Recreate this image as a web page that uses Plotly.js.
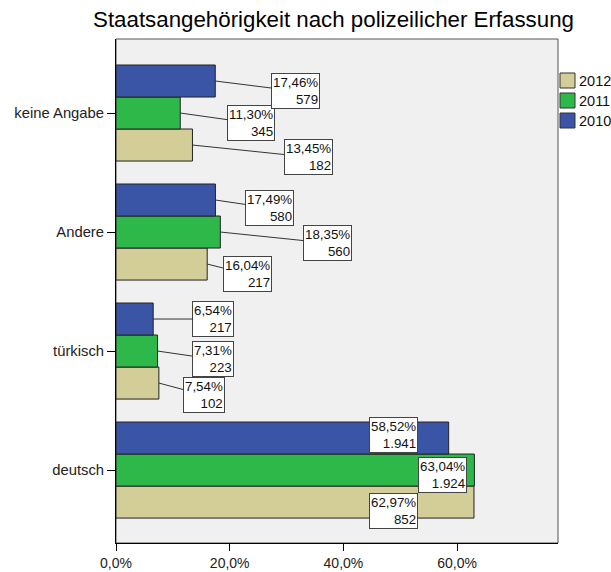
<!DOCTYPE html>
<html>
<head>
<meta charset="utf-8">
<script src="https://cdn.plot.ly/plotly-3.0.1.min.js"></script>
<style>html,body{margin:0;padding:0;background:#fff;}#chart{width:611px;height:572px;}</style>
</head>
<body>
<div id="chart"></div>
<script>
// ---- data ----
const categories = ["deutsch", "türkisch", "Andere", "keine Angabe"];
const years = ["2012", "2011", "2010"];
const pct2012 = [62.97, 7.54, 16.04, 13.45];
const pct2011 = [63.04, 7.31, 18.35, 11.30];
const pct2010 = [58.52, 6.54, 17.49, 17.46];
const count2012 = [852, 102, 217, 182];
const count2011 = [1924, 223, 560, 345];
const count2010 = [1941, 217, 580, 579];
const xTickVals = [0, 20, 40, 60];
const xTickText = ["0,0%", "20,0%", "40,0%", "60,0%"];

// ---- styling / layout ----
const colors = {"2012": "#d3ce98", "2011": "#2eb84a", "2010": "#3a55a6"};
const M = {l: 116, r: 53, t: 39, b: 29};
const W = 611, H = 572;
const PW = W - M.l - M.r, PH = H - M.t - M.b;
const px2x = px => (px - M.l) / PW;
const py2y = py => (H - M.b - py) / PH;
const FONT = 'Liberation Sans, Arial, sans-serif';

const series = {
  "2012": {pct: pct2012, cnt: count2012},
  "2011": {pct: pct2011, cnt: count2011},
  "2010": {pct: pct2010, cnt: count2010}
};

const fmtPct = v => v.toFixed(2).replace('.', ',') + '%';
const fmtCnt = n => String(n).replace(/\B(?=(\d{3})+(?!\d))/g, '.');

const traces = years.map(y => ({
  type: 'bar',
  orientation: 'h',
  name: y,
  y: categories,
  x: series[y].pct,
  marker: {color: colors[y], line: {color: '#222', width: 1}},
  hoverinfo: 'none',
  showlegend: false
}));

// label box offsets (pixels from bar end), index by category
const offsets = {
  "2010": [[-55, -3], [60, 0], [54, 8], [80, 10]],
  "2011": [[-32, 5], [55, 8], [107, 11], [71, 10]],
  "2012": [[-80, 9], [45, 12], [40, 10], [116, 12]]
};
const barShift = {"2010": 0.269, "2011": 0, "2012": -0.269};

const annotations = [];
years.forEach(y => {
  categories.forEach((c, i) => {
    const [ax, ay] = offsets[y][i];
    annotations.push({
      x: series[y].pct[i], y: i + barShift[y], xref: 'x', yref: 'y',
      text: fmtPct(series[y].pct[i]) + '<br>' + fmtCnt(series[y].cnt[i]),
      align: 'right',
      showarrow: true, arrowhead: 0, arrowwidth: 1,
      arrowcolor: i === 0 ? 'rgba(0,0,0,0)' : '#333',
      ax: ax, ay: ay, standoff: 0,
      bgcolor: '#ffffff', bordercolor: '#444', borderwidth: 1, borderpad: 1,
      font: {family: FONT, size: 13.3, color: '#111'}
    });
  });
});

// custom legend
const shapes = [{
  type: 'rect', xref: 'paper', yref: 'paper', x0: 0, x1: 1, y0: 0, y1: 1,
  line: {color: '#555', width: 1}, layer: 'below'
}];
years.forEach((y, k) => {
  const top = 73 + k * 20;
  shapes.push({
    type: 'rect', xref: 'paper', yref: 'paper',
    x0: px2x(560), x1: px2x(575), y0: py2y(top + 15), y1: py2y(top),
    fillcolor: colors[y], line: {color: '#333', width: 1}
  });
  annotations.push({
    xref: 'paper', yref: 'paper', x: px2x(577), y: py2y(top + 8),
    xanchor: 'left', yanchor: 'middle', showarrow: false, text: y,
    font: {family: FONT, size: 14.5, color: '#111'}
  });
});

const layout = {
  width: W, height: H,
  margin: M,
  paper_bgcolor: '#ffffff',
  plot_bgcolor: '#f0f0f0',
  separators: ',.',
  barmode: 'group',
  bargap: 0.193,
  bargroupgap: 0,
  showlegend: false,
  title: {
    text: 'Staatsangehörigkeit nach polizeilicher Erfassung',
    font: {family: FONT, size: 22.3, color: '#000'},
    x: 333.5 / W, xanchor: 'center', y: 1 - 19 / H, yanchor: 'middle'
  },
  xaxis: {
    range: [0, 77.75],
    tickmode: 'array',
    tickvals: xTickVals,
    ticktext: xTickText,
    ticks: 'outside', ticklen: 7, tickcolor: '#000', tickwidth: 1,
    showline: true, linecolor: '#000', linewidth: 1,
    showgrid: false, zeroline: false,
    tickfont: {family: FONT, size: 14, color: '#222'}
  },
  yaxis: {
    type: 'category',
    range: [-0.613, 3.622],
    ticks: 'outside', ticklen: 8, tickcolor: '#000', tickwidth: 1,
    showline: true, linecolor: '#000', linewidth: 1,
    showgrid: false, zeroline: false,
    tickfont: {family: FONT, size: 14.8, color: '#222'}
  },
  shapes: shapes,
  annotations: annotations
};

Plotly.newPlot('chart', traces, layout, {displayModeBar: false, staticPlot: true});
</script>
</body>
</html>
